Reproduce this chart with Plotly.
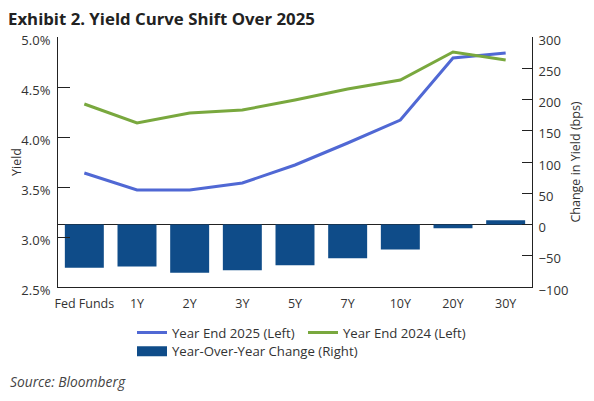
import plotly.graph_objects as go

# tenors along the curve
tenors = ["Fed Funds", "1Y", "2Y", "3Y", "5Y", "7Y", "10Y", "20Y", "30Y"]

# yields in percent
year_end_2025 = [3.64, 3.47, 3.47, 3.54, 3.72, 3.94, 4.17, 4.79, 4.84]
year_end_2024 = [4.33, 4.14, 4.24, 4.27, 4.37, 4.48, 4.57, 4.85, 4.77]

# change in bps (right axis)
yoy_change = [-69, -67, -77, -73, -65, -54, -40, -6, 7]

font_main = "Open Sans, Noto Sans, sans-serif"
txt_col = "#333333"
bar_col = "#0f4c89"

# page body has an 8px margin, so the figure is drawn 8px smaller
W, H = 586, 393
ML, MT, MR = 50, 29, 62
PW, PH = W - ML - MR, 250

fig = go.Figure()

fig.add_trace(go.Bar(
    x=tenors, y=yoy_change, yaxis="y2",
    name="Year-Over-Year Change (Right)",
    marker=dict(color=bar_col, line=dict(width=0)),
    width=0.74, showlegend=False,
))

fig.add_trace(go.Scatter(
    x=tenors, y=year_end_2025, mode="lines",
    name="Year End 2025 (Left)",
    line=dict(color="#5068d4", width=3),
    legend="legend",
))

fig.add_trace(go.Scatter(
    x=tenors, y=year_end_2024, mode="lines",
    name="Year End 2024 (Left)",
    line=dict(color="#79a83e", width=3),
    legend="legend",
))

# legend entry for the bars, drawn as a wide block like the original
fig.add_trace(go.Scatter(
    x=[None], y=[None], mode="lines", yaxis="y2",
    name="Year-Over-Year Change (Right)",
    line=dict(color=bar_col, width=14),
    legend="legend2", hoverinfo="skip",
))

fig.update_layout(
    width=W, height=H,
    margin=dict(l=ML, r=MR, t=MT, b=H - MT - PH, pad=0),
    paper_bgcolor="white", plot_bgcolor="white",
    font=dict(family=font_main, size=12.5, color=txt_col),
    title=dict(
        text="<b>Exhibit 2. Yield Curve Shift Over 2025</b>",
        font=dict(size=16.8, color="#222222"),
        xref="container", yref="container",
        x=0, xanchor="left", y=1 - 11 / H, yanchor="middle",
    ),
    xaxis=dict(
        showgrid=False, showline=True, linecolor="#222222", linewidth=1,
        ticks="", tickfont=dict(size=12.5, color=txt_col),
        ticklabelstandoff=5, automargin=False,
        range=[-0.5, 8.5],
    ),
    yaxis=dict(
        range=[2.5, 5.0], dtick=0.5, tickformat=".1f", ticksuffix="%",
        showgrid=False, zeroline=False, automargin=False,
        showline=True, linecolor="#222222", linewidth=1,
        ticks="inside", ticklen=12, tickcolor="#222222",
        tickfont=dict(size=13), ticklabelstandoff=4, ticklabelshift=3,
        title=dict(text="Yield", standoff=0, font=dict(size=12.5)),
    ),
    yaxis2=dict(
        range=[-100, 300], dtick=50, overlaying="y", side="right",
        showgrid=False, zeroline=True, zerolinecolor="#222222", zerolinewidth=1,
        showline=True, linecolor="#222222", linewidth=1, automargin=False,
        ticks="inside", ticklen=10, tickcolor="#222222",
        tickfont=dict(size=13), ticklabelstandoff=3, ticklabelshift=3,
        title=dict(text="Change in Yield (bps)", standoff=3, font=dict(size=12.5)),
    ),
    legend=dict(
        orientation="h", x=(132 - 8 - ML) / PW, y=-0.122,
        xanchor="left", yanchor="top",
        itemwidth=30, entrywidth=126, font=dict(size=13.2, color=txt_col),
        bgcolor="rgba(0,0,0,0)",
    ),
    legend2=dict(
        orientation="h", x=(132 - 8 - ML) / PW, y=-0.197,
        xanchor="left", yanchor="top",
        itemwidth=30, font=dict(size=13.2, color=txt_col),
        bgcolor="rgba(0,0,0,0)",
    ),
    annotations=[dict(
        text="<i>Source: Bloomberg</i>", xref="paper", yref="paper",
        x=(0 - ML) / PW, y=-94 / PH, xanchor="left", yanchor="middle",
        showarrow=False, font=dict(size=13.8, color="#444444"),
    )],
)

fig.write_html("out.html")
